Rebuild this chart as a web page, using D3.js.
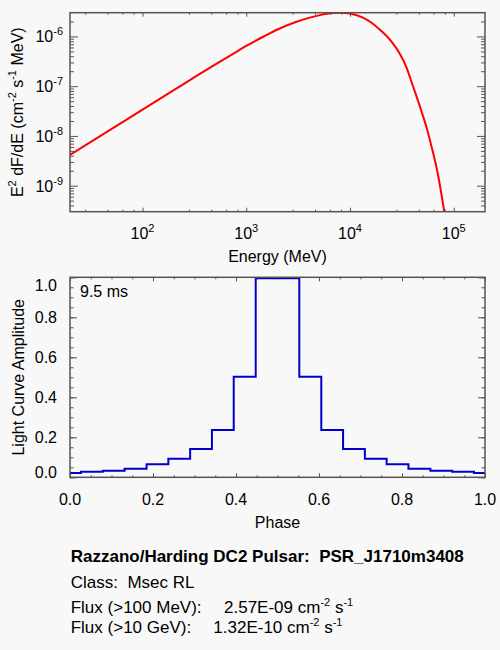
<!DOCTYPE html>
<html>
<head>
<meta charset="utf-8">
<script src="https://cdn.jsdelivr.net/npm/d3@7"></script>
<style>
  body { margin: 0; background: #f8f8f8; }
  svg { display: block; font-family: "Liberation Sans", Arial, Helvetica, sans-serif; }
</style>
</head>
<body>
<div id="chart"></div>
<script>
// spectrum: E^2 dF/dE vs energy (MeV)
const energy = [20, 50, 100, 200, 350, 500, 850, 1000, 1500, 2000, 3000, 4000, 5000, 6000, 7000, 8000,
  9000, 10000, 13000, 16000, 20000, 25000, 30000, 35000, 40000, 45000, 50000, 55000, 60000, 70000, 80000, 85000];
const e2dfde = [4.17e-9, 1.37e-8, 3.38e-8, 8.32e-8, 1.72e-7, 2.72e-7, 5.27e-7, 6.43e-7, 1.02e-6, 1.38e-6, 1.95e-6,
  2.36e-6, 2.65e-6, 2.85e-6, 2.95e-6, 3.0e-6, 2.97e-6, 2.90e-6, 2.45e-6, 1.91e-6, 1.29e-6, 7.94e-7, 4.57e-7,
  2.40e-7, 1.07e-7, 5.25e-8, 2.69e-8, 1.41e-8, 7.08e-9, 1.78e-9, 3.55e-10, 1.58e-10];

// light curve (histogram)
const phase = [0, 0.053, 0.105, 0.158, 0.211, 0.263, 0.316, 0.368, 0.421, 0.474,
  0.526, 0.579, 0.632, 0.684, 0.737, 0.789, 0.842, 0.895, 0.947, 1.0];
const amplitude = [0.022, 0.028, 0.033, 0.043, 0.065, 0.093, 0.141, 0.236, 0.503, 0.995,
  0.995, 0.503, 0.236, 0.141, 0.093, 0.065, 0.043, 0.033, 0.028, 0.022];

// tick labels
const energyTicks = [100, 1000, 10000, 100000];
const energyExp = ["2", "3", "4", "5"];
const fluxTicks = [1e-6, 1e-7, 1e-8, 1e-9];
const fluxExp = ["-6", "-7", "-8", "-9"];
const phaseTicks = [0, 0.2, 0.4, 0.6, 0.8, 1.0];
const ampTicks = [0, 0.2, 0.4, 0.6, 0.8, 1.0];

const periodLabel = "9.5 ms";
const titleText = "Razzano/Harding DC2 Pulsar:  PSR_J1710m3408";
const classText = "Class:  Msec RL";
const fluxLines = [
  { label: "Flux (>100 MeV):", value: "2.57E-09" },
  { label: "Flux (>10 GeV):", value: "1.32E-10" }
];

const axisColor = "#555";
const W = 500, H = 650;

const svg = d3.select("#chart").append("svg")
  .attr("width", W)
  .attr("height", H);

svg.append("rect").attr("width", W).attr("height", H).attr("fill", "#f8f8f8");

function addTicks(g, axisFn, scale, values, size) {
  g.call(axisFn(scale).tickValues(values).tickSize(-size).tickSizeOuter(0).tickFormat(""));
  g.select(".domain").remove();
  g.selectAll(".tick line").attr("stroke", axisColor).attr("stroke-width", 1);
}

// ---------- top panel: spectrum ----------
const p1 = { left: 70, top: 12.7, width: 415, height: 199 };
const g1 = svg.append("g").attr("transform", `translate(${p1.left},${p1.top})`);

const x1 = d3.scaleLog().domain([20, 2e5]).range([0, p1.width]);
const y1 = d3.scaleLog().domain([3e-10, 3e-6]).range([p1.height, 0]);

// IDL style minor ticks on energy axis: 1 + 1.8k per decade
const xMinor1 = [];
for (let n = 1; n <= 5; n++) {
  for (let k = 1; k <= 4; k++) {
    const v = Math.pow(10, n) * (1 + 1.8 * k);
    if (v > 20 && v < 2e5) xMinor1.push(v);
  }
}
const yMinor1 = [];
for (let n = -10; n <= -6; n++) {
  for (let k = 2; k <= 9; k++) {
    const v = k * Math.pow(10, n);
    if (v > 3e-10 && v < 3e-6) yMinor1.push(v);
  }
}

addTicks(g1.append("g").attr("transform", `translate(0,${p1.height})`), d3.axisBottom, x1, energyTicks, 4);
addTicks(g1.append("g").attr("transform", `translate(0,${p1.height})`), d3.axisBottom, x1, xMinor1, 2);
addTicks(g1.append("g"), d3.axisTop, x1, energyTicks, 4);
addTicks(g1.append("g"), d3.axisTop, x1, xMinor1, 2);
addTicks(g1.append("g"), d3.axisLeft, y1, fluxTicks, 8);
addTicks(g1.append("g"), d3.axisLeft, y1, yMinor1, 4);
addTicks(g1.append("g").attr("transform", `translate(${p1.width},0)`), d3.axisRight, y1, fluxTicks, 8);
addTicks(g1.append("g").attr("transform", `translate(${p1.width},0)`), d3.axisRight, y1, yMinor1, 4);

g1.append("clipPath").attr("id", "clip1")
  .append("rect").attr("width", p1.width).attr("height", p1.height);

const specLine = d3.line()
  .x(d => x1(d[0]))
  .y(d => y1(d[1]))
  .curve(d3.curveMonotoneX);

g1.append("path")
  .datum(energy.map((e, i) => [e, e2dfde[i]]))
  .attr("clip-path", "url(#clip1)")
  .attr("fill", "none")
  .attr("stroke", "#ff0000")
  .attr("stroke-width", 2)
  .attr("d", specLine);

g1.append("rect")
  .attr("width", p1.width).attr("height", p1.height)
  .attr("fill", "none").attr("stroke", axisColor).attr("stroke-width", 1.5);

// energy tick labels
energyTicks.forEach((v, i) => {
  const t = g1.append("text")
    .attr("x", x1(v))
    .attr("y", p1.height + 27.5)
    .attr("text-anchor", "middle")
    .attr("font-size", 16)
    .attr("fill", "#000");
  t.append("tspan").text("10");
  t.append("tspan").attr("dy", -7).attr("font-size", 11).text(energyExp[i]);
});

// flux tick labels
fluxTicks.forEach((v, i) => {
  const t = g1.append("text")
    .attr("x", -7)
    .attr("y", y1(v) + 6)
    .attr("text-anchor", "end")
    .attr("font-size", 16)
    .attr("fill", "#000");
  t.append("tspan").text("10");
  t.append("tspan").attr("dy", -7).attr("font-size", 11).text(fluxExp[i]);
});

g1.append("text")
  .attr("x", p1.width / 2)
  .attr("y", 249)
  .attr("text-anchor", "middle")
  .attr("font-size", 16)
  .text("Energy (MeV)");

const yl1 = svg.append("text")
  .attr("transform", `translate(23,${p1.top + p1.height / 2}) rotate(-90)`)
  .attr("text-anchor", "middle")
  .attr("font-size", 16);
yl1.append("tspan").text("E");
yl1.append("tspan").attr("dy", -7).attr("font-size", 11).text("2");
yl1.append("tspan").attr("dy", 7).text(" dF/dE (cm");
yl1.append("tspan").attr("dy", -7).attr("font-size", 11).text("-2");
yl1.append("tspan").attr("dy", 7).text(" s");
yl1.append("tspan").attr("dy", -7).attr("font-size", 11).text("-1");
yl1.append("tspan").attr("dy", 7).text(" MeV)");

// ---------- bottom panel: light curve ----------
const p2 = { left: 70, top: 277.3, width: 415, height: 200 };
const g2 = svg.append("g").attr("transform", `translate(${p2.left},${p2.top})`);

const x2 = d3.scaleLinear().domain([0, 1]).range([0, p2.width]);
const y2 = d3.scaleLinear().domain([0, 1]).range([p2.height, 0]);

const minor2 = d3.range(0, 1.0001, 0.05);

addTicks(g2.append("g").attr("transform", `translate(0,${p2.height})`), d3.axisBottom, x2, phaseTicks, 4);
addTicks(g2.append("g").attr("transform", `translate(0,${p2.height})`), d3.axisBottom, x2, minor2, 2);
addTicks(g2.append("g"), d3.axisTop, x2, phaseTicks, 4);
addTicks(g2.append("g"), d3.axisTop, x2, minor2, 2);
addTicks(g2.append("g"), d3.axisLeft, y2, ampTicks, 7);
addTicks(g2.append("g"), d3.axisLeft, y2, minor2, 3.5);
addTicks(g2.append("g").attr("transform", `translate(${p2.width},0)`), d3.axisRight, y2, ampTicks, 7);
addTicks(g2.append("g").attr("transform", `translate(${p2.width},0)`), d3.axisRight, y2, minor2, 3.5);

const stepLine = d3.line()
  .x(d => x2(d[0]))
  .y(d => y2(d[1]))
  .curve(d3.curveStep);

g2.append("path")
  .datum(phase.map((p, i) => [p, amplitude[i]]))
  .attr("fill", "none")
  .attr("stroke", "#0000cc")
  .attr("stroke-width", 2)
  .attr("d", stepLine);

g2.append("rect")
  .attr("width", p2.width).attr("height", p2.height)
  .attr("fill", "none").attr("stroke", axisColor).attr("stroke-width", 1.5);

phaseTicks.forEach(v => {
  g2.append("text")
    .attr("x", x2(v))
    .attr("y", p2.height + 27.5)
    .attr("text-anchor", "middle")
    .attr("font-size", 16)
    .text(v.toFixed(1));
});

ampTicks.forEach(v => {
  const cy = Math.max(8, Math.min(p2.height - 5, y2(v)));
  g2.append("text")
    .attr("x", -13)
    .attr("y", cy + 6)
    .attr("text-anchor", "end")
    .attr("font-size", 16)
    .text(v.toFixed(1));
});

g2.append("text")
  .attr("x", p2.width / 2)
  .attr("y", 251)
  .attr("text-anchor", "middle")
  .attr("font-size", 16)
  .text("Phase");

g2.append("text")
  .attr("x", 10)
  .attr("y", 19.5)
  .attr("font-size", 16)
  .text(periodLabel);

svg.append("text")
  .attr("transform", `translate(24,${p2.top + p2.height / 2}) rotate(-90)`)
  .attr("text-anchor", "middle")
  .attr("font-size", 16)
  .text("Light Curve Amplitude");

// ---------- info block ----------
const info = svg.append("g").attr("transform", "translate(70.7,0)");

info.append("text")
  .attr("y", 562)
  .attr("font-size", 17)
  .attr("font-weight", "bold")
  .style("white-space", "pre")
  .text(titleText);

info.append("text")
  .attr("y", 588)
  .attr("font-size", 17)
  .style("white-space", "pre")
  .text(classText);

const valueX = [153.3, 142.6];
fluxLines.forEach((f, i) => {
  const y = 613 + i * 20;
  info.append("text")
    .attr("y", y)
    .attr("font-size", 17)
    .text(f.label);
  const t = info.append("text")
    .attr("x", valueX[i])
    .attr("y", y)
    .attr("font-size", 17)
    .style("white-space", "pre");
  t.append("tspan").text(f.value + " cm");
  t.append("tspan").attr("dy", -7).attr("font-size", 11).text("-2");
  t.append("tspan").attr("dy", 7).text(" s");
  t.append("tspan").attr("dy", -7).attr("font-size", 11).text("-1");
});
</script>
</body>
</html>
